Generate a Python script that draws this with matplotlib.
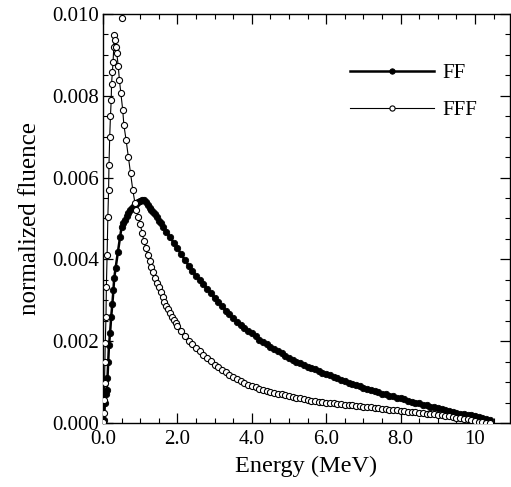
import numpy as np
import matplotlib
matplotlib.use('Agg')
import matplotlib.pyplot as plt
from matplotlib.ticker import MultipleLocator

plt.rcParams['font.family'] = ['Liberation Serif', 'DejaVu Serif']
plt.rcParams['mathtext.fontset'] = 'stix'

# FF spectrum (energy in MeV, normalized fluence)
ff_energy = [0.01, 0.03, 0.05, 0.08, 0.10, 0.12, 0.14, 0.16, 0.19, 0.22, 0.25, 0.28, 0.30, 0.34,
             0.40, 0.46, 0.50, 0.55, 0.59, 0.64, 0.68, 0.72, 0.77, 0.82, 0.86, 0.90, 0.95, 1.00,
             1.05, 1.10, 1.15, 1.20, 1.26, 1.30, 1.35, 1.40, 1.44, 1.50, 1.55, 1.60, 1.70, 1.80,
             1.90, 2.0, 2.1, 2.2, 2.3, 2.4, 2.5, 2.6, 2.7, 2.8, 2.9, 3.0, 3.1, 3.2, 3.3, 3.4,
             3.5, 3.6, 3.7, 3.8, 3.9, 4.0, 4.1, 4.2, 4.3, 4.4, 4.5, 4.6, 4.7, 4.8, 4.9, 5.0,
             5.1, 5.2, 5.3, 5.4, 5.5, 5.6, 5.7, 5.8, 5.9, 6.0, 6.1, 6.2, 6.3, 6.4, 6.5, 6.6,
             6.7, 6.8, 6.9, 7.0, 7.1, 7.2, 7.3, 7.4, 7.5, 7.6, 7.7, 7.8, 7.9, 8.0, 8.1, 8.2,
             8.3, 8.4, 8.5, 8.6, 8.7, 8.8, 8.9, 9.0, 9.1, 9.2, 9.3, 9.4, 9.5, 9.6, 9.7, 9.8,
             9.9, 10.0, 10.1, 10.2, 10.3, 10.4]
ff_fluence = [0.00002, 0.00007, 0.0005, 0.0007, 0.0008, 0.0011, 0.0015, 0.0019, 0.0022, 0.0026,
              0.0029, 0.00325, 0.00354, 0.0038, 0.00418, 0.00455, 0.0048, 0.0049, 0.00496, 0.00505,
              0.00513, 0.0052, 0.00526, 0.0053, 0.00533, 0.00536, 0.0054, 0.00542, 0.00545, 0.00545,
              0.0054, 0.00533, 0.00526, 0.0052, 0.00515, 0.0051, 0.00504, 0.00495, 0.00488, 0.0048,
              0.00468, 0.00455, 0.0044, 0.00428, 0.00412, 0.00399, 0.00385, 0.00372, 0.0036, 0.0035,
              0.0034, 0.00328, 0.00318, 0.00305, 0.00295, 0.00285, 0.00275, 0.00266, 0.00257, 0.00248,
              0.0024, 0.00233, 0.00226, 0.00219, 0.00212, 0.00204, 0.00198, 0.00192, 0.00186, 0.00181,
              0.00175, 0.0017, 0.00164, 0.0016, 0.00155, 0.0015, 0.00146, 0.00142, 0.00138, 0.00134,
              0.00131, 0.00127, 0.00123, 0.0012, 0.00117, 0.00113, 0.0011, 0.00106, 0.00102, 0.00099,
              0.00096, 0.00093, 0.0009, 0.00086, 0.00083, 0.0008, 0.00078, 0.00075, 0.00072, 0.0007,
              0.00067, 0.00065, 0.00062, 0.0006, 0.00058, 0.00055, 0.00052, 0.0005, 0.00048, 0.00045,
              0.00043, 0.0004, 0.00038, 0.00036, 0.00034, 0.00031, 0.00029, 0.00027, 0.00025, 0.00023,
              0.00022, 0.0002, 0.00019, 0.00017, 0.00015, 0.00013, 0.0001, 0.00007]

# FFF spectrum
fff_energy = [0.01, 0.02, 0.03, 0.04, 0.05, 0.06, 0.08, 0.09, 0.11, 0.13, 0.15, 0.16, 0.18, 0.20,
              0.22, 0.23, 0.25, 0.27, 0.29, 0.30, 0.32, 0.35, 0.37, 0.41, 0.44, 0.48, 0.53, 0.56,
              0.62, 0.68, 0.74, 0.80, 0.86, 0.90, 0.95, 1.00, 1.05, 1.10, 1.15, 1.20, 1.25, 1.30,
              1.35, 1.40, 1.45, 1.50, 1.55, 1.60, 1.65, 1.70, 1.75, 1.80, 1.85, 1.90, 1.95, 2.0,
              2.1, 2.2, 2.3, 2.4, 2.5, 2.6, 2.7, 2.8, 2.9, 3.0, 3.1, 3.2, 3.3, 3.4, 3.5, 3.6,
              3.7, 3.8, 3.9, 4.0, 4.1, 4.2, 4.3, 4.4, 4.5, 4.6, 4.7, 4.8, 4.9, 5.0, 5.1, 5.2,
              5.3, 5.4, 5.5, 5.6, 5.7, 5.8, 5.9, 6.0, 6.1, 6.2, 6.3, 6.4, 6.5, 6.6, 6.7, 6.8,
              6.9, 7.0, 7.1, 7.2, 7.3, 7.4, 7.5, 7.6, 7.7, 7.8, 7.9, 8.0, 8.1, 8.2, 8.3, 8.4,
              8.5, 8.6, 8.7, 8.8, 8.9, 9.0, 9.1, 9.2, 9.3, 9.4, 9.5, 9.6, 9.7, 9.8, 9.9, 10.0,
              10.1, 10.2, 10.3, 10.4]
fff_fluence = [0.00003, 0.00024, 0.00056, 0.00097, 0.0015, 0.00195, 0.0026, 0.00333, 0.0041, 0.00504,
               0.0057, 0.0063, 0.0070, 0.0075, 0.0079, 0.0083, 0.00858, 0.00883, 0.0092, 0.00949,
               0.00936, 0.0092, 0.00904, 0.00872, 0.00839, 0.00806, 0.00765, 0.00729, 0.00692, 0.00651,
               0.0061, 0.0057, 0.00537, 0.0052, 0.00504, 0.00486, 0.00465, 0.00445, 0.00428, 0.0041,
               0.00397, 0.00382, 0.00368, 0.00355, 0.00343, 0.00332, 0.0032, 0.00308, 0.00297, 0.00287,
               0.00278, 0.00268, 0.0026, 0.00252, 0.00244, 0.00237, 0.00224, 0.00212, 0.00201, 0.00192,
               0.00184, 0.00175, 0.00166, 0.00159, 0.00151, 0.00143, 0.00136, 0.0013, 0.00124, 0.00118,
               0.00112, 0.00107, 0.00102, 0.00098, 0.00094, 0.0009, 0.00087, 0.00084, 0.00081, 0.00078,
               0.00076, 0.00074, 0.00072, 0.0007, 0.00068, 0.00066, 0.00064, 0.00062, 0.0006, 0.00058,
               0.00056, 0.00055, 0.00053, 0.00052, 0.00051, 0.0005, 0.00049, 0.00048, 0.00047, 0.00046,
               0.00045, 0.00044, 0.00043, 0.00042, 0.00041, 0.0004, 0.00039, 0.00038, 0.00037, 0.00036,
               0.00035, 0.00034, 0.00033, 0.00032, 0.00031, 0.0003, 0.00029, 0.00028, 0.00027, 0.00026,
               0.00025, 0.00024, 0.00023, 0.00022, 0.00021, 0.0002, 0.00019, 0.00018, 0.00016, 0.00015,
               0.00013, 0.00012, 0.0001, 0.00009, 0.00007, 0.00005, 0.00003, 0.00002, 0.00001, 0.00001]

# stray FFF point near the top of the frame
fff_stray_energy = [0.51]
fff_stray_fluence = [0.0099]

fig = plt.figure(figsize=(5.11, 4.87), dpi=100)
ax = fig.add_axes([0.2016, 0.1314, 0.7964, 0.8399])

ax.plot(ff_energy, ff_fluence, '-o', color='black', lw=1.8, ms=4.6,
        mfc='black', mec='black', mew=0.6, label='FF', zorder=2)
ax.plot(fff_energy, fff_fluence, '-o', color='black', lw=0.8, ms=4.4,
        mfc='white', mec='black', mew=0.8, label='FFF', zorder=3)
ax.plot(fff_stray_energy, fff_stray_fluence, 'o', ms=4.4, mfc='white',
        mec='black', mew=0.8, zorder=3, clip_on=False)

ax.set_xlim(0, 10.94)
ax.set_ylim(0, 0.010)
ax.xaxis.set_major_locator(MultipleLocator(2))
ax.xaxis.set_minor_locator(MultipleLocator(0.5))
ax.yaxis.set_major_locator(MultipleLocator(0.002))
ax.yaxis.set_minor_locator(MultipleLocator(0.0005))
ax.set_xticks([0, 2, 4, 6, 8, 10])
ax.set_xticklabels(['0.0', '2.0', '4.0', '6.0', '8.0', '10'])
ax.yaxis.set_major_formatter(plt.FuncFormatter(lambda v, p: '%.3f' % v))

ax.tick_params(which='both', direction='in', top=True, right=True, labelsize=15, pad=3)
ax.tick_params(axis='x', which='major', pad=5)
ax.tick_params(which='major', length=7, width=0.9)
ax.tick_params(which='minor', length=3.5, width=0.8)
for s in ax.spines.values():
    s.set_linewidth(1.0)

ax.set_xlabel('Energy (MeV)', fontsize=17.5, labelpad=5)
ax.set_ylabel('normalized fluence', fontsize=18, labelpad=8)

leg = ax.legend(loc='upper right', bbox_to_anchor=(0.965, 0.925), frameon=False,
                fontsize=15, handlelength=4.0, labelspacing=0.85, markerscale=0.85,
                handletextpad=0.4)

fig.savefig('out.png', dpi=100)
